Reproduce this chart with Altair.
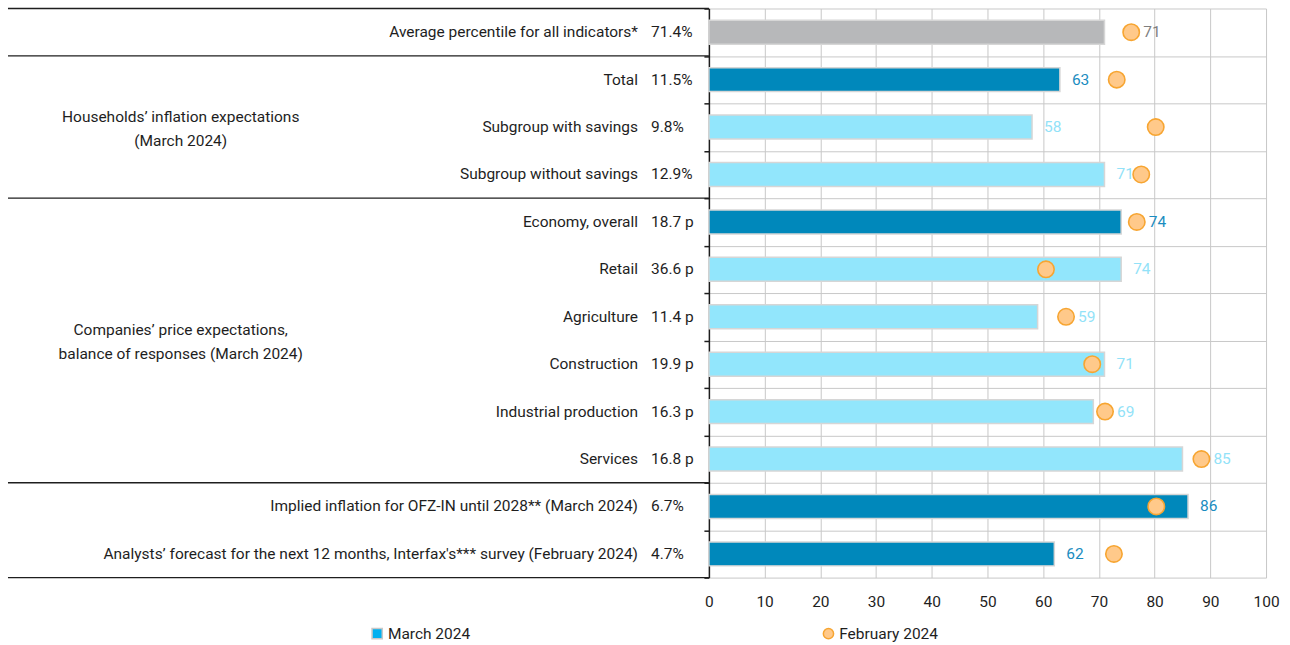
import altair as alt
import pandas as pd

# Indicator rows, top to bottom
indicators = [
    "Average percentile for all indicators*",
    "Total",
    "Subgroup with savings",
    "Subgroup without savings",
    "Economy, overall",
    "Retail",
    "Agriculture",
    "Construction",
    "Industrial production",
    "Services",
    "Implied inflation for OFZ-IN until 2028** (March 2024)",
    "Analysts’ forecast for the next 12 months, Interfax's*** survey (February 2024)",
]
readings = ["71.4%", "11.5%", "9.8%", "12.9%", "18.7 p", "36.6 p", "11.4 p",
            "19.9 p", "16.3 p", "16.8 p", "6.7%", "4.7%"]
# Percentile in the historical distribution
march_pct = [71, 63, 58, 71, 74, 74, 59, 71, 69, 85, 86, 62]
february_pct = [75.8, 73.2, 80.2, 77.6, 76.8, 60.5, 64.1, 68.8, 71.1, 88.4, 80.3, 72.7]
row_kind = ["average", "headline", "detail", "detail", "headline", "detail",
            "detail", "detail", "detail", "detail", "headline", "headline"]

group_titles = ["", "Households’ inflation expectations\n(March 2024)",
                "Companies’ price expectations,\nbalance of responses (March 2024)", ""]
group_sizes = [1, 3, 6, 2]

x_ticks = list(range(0, 101, 10))
legend_labels = ["March 2024", "February 2024"]

kinds = ["average", "headline", "detail"]
bar_colors = ["#B7B8BA", "#0088BB", "#92E6FC"]
label_colors = ["#7F7F7F", "#1A8CC0", "#92E2F8"]

FONT = "Roboto"
FS = 15.5
TEXT = "#1E1E1E"
GRID = "#C8C8C8"

n_rows = len(indicators)

rows = pd.DataFrame({
    "indicator": indicators,
    "reading": readings,
    "march": march_pct,
    "february": february_pct,
    "kind": row_kind,
})
rows["pos"] = [i + 0.5 for i in range(n_rows)]
# value label sits after the dot when the dot is just beyond the bar
rows["label_x"] = [f if (f > m and f - m < 6) else m
                   for m, f in zip(march_pct, february_pct)]
rows["series"] = "February 2024"

edges = [0]
for s in group_sizes:
    edges.append(edges[-1] + s)
groups = pd.DataFrame({
    "title": group_titles,
    "mid": [(a + b) / 2 for a, b in zip(edges[:-1], edges[1:])],
})
groups = groups[groups["title"] != ""]
edge_df = pd.DataFrame({"edge": edges})

y_scale = alt.Scale(domain=[0, n_rows], reverse=True, nice=False, zero=False, padding=0)
x_scale = alt.Scale(domain=[0, 100], nice=False, padding=0)

x_axis = alt.Axis(values=x_ticks, grid=True, gridColor=GRID, gridWidth=1,
                  domain=False, ticks=False, labelFontSize=FS, labelColor=TEXT,
                  labelPadding=17, labelFlush=False, labelOverlap=False,
                  title=None, labelFont=FONT)
y_axis = alt.Axis(values=list(range(n_rows + 1)), grid=True, gridColor=GRID,
                  gridWidth=1, labels=False, ticks=True, tickColor=TEXT,
                  tickSize=5, tickWidth=1.5, domainColor=TEXT, domainWidth=1.5,
                  title=None)

base = alt.Chart(rows)

bars = base.mark_bar(orient="horizontal", size=24, stroke="#D6D6D6", strokeWidth=1.5).encode(
    x=alt.X("march:Q", scale=x_scale, axis=x_axis),
    y=alt.Y("pos:Q", scale=y_scale, axis=y_axis),
    color=alt.Color("kind:N", scale=alt.Scale(domain=kinds, range=bar_colors), legend=None),
)

legend_spec = alt.Legend(
    title=None, orient="none", legendX=-340, legendY=618, direction="horizontal",
    labelFontSize=FS, labelColor=TEXT, labelFont=FONT, symbolSize=105,
    symbolStrokeWidth=1.5, columnPadding=350, labelOffset=3,
)
dots = base.mark_point(filled=True, size=270, strokeWidth=1.6, opacity=1).encode(
    x="february:Q",
    y="pos:Q",
    fill=alt.Fill("series:N", scale=alt.Scale(domain=legend_labels, range=["#00B0F0", "#FFC98A"]),
                  legend=legend_spec),
    stroke=alt.Stroke("series:N", scale=alt.Scale(domain=legend_labels, range=["#C8C8C8", "#F7A531"]),
                      legend=legend_spec),
    shape=alt.Shape("series:N", scale=alt.Scale(domain=legend_labels, range=["square", "circle"]),
                    legend=legend_spec),
)

values = base.mark_text(align="left", baseline="middle", dx=12, fontSize=FS, font=FONT).encode(
    x="label_x:Q",
    y="pos:Q",
    text=alt.Text("march:Q", format="d"),
    color=alt.Color("kind:N", scale=alt.Scale(domain=kinds, range=label_colors), legend=None),
)

names = base.mark_text(align="right", baseline="middle", fontSize=FS, font=FONT, color=TEXT).encode(
    x=alt.value(-71), y="pos:Q", text="indicator:N",
)
reading_text = base.mark_text(align="left", baseline="middle", fontSize=FS, font=FONT, color=TEXT).encode(
    x=alt.value(-58), y="pos:Q", text="reading:N",
)
group_text = alt.Chart(groups).mark_text(
    align="center", baseline="middle", fontSize=FS, font=FONT, color=TEXT,
    lineBreak="\n", lineHeight=24, dy=-10,
).encode(x=alt.value(-529), y="mid:Q", text="title:N")

separators = alt.Chart(edge_df).mark_rule(color=TEXT, strokeWidth=1.3).encode(
    x=alt.value(-702), x2=alt.value(0), y="edge:Q",
)

chart = alt.layer(
    bars, dots, values, names, reading_text, group_text, separators
).resolve_scale(
    color="independent"
).properties(
    width=558, height=570,
    padding={"left": 7, "top": 7, "right": 10, "bottom": 5},
).configure(font=FONT).configure_view(stroke=None)

chart.save("out.html", embed_options={"renderer": "svg", "actions": False})
